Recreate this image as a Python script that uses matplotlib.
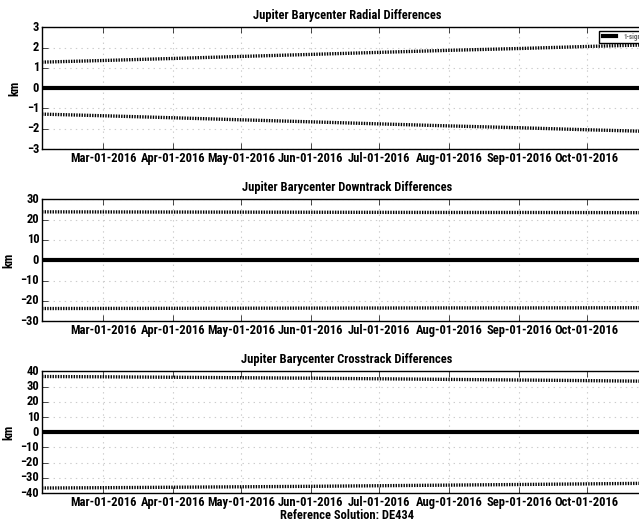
import datetime as dt
import matplotlib
matplotlib.use("Agg")
import matplotlib.pyplot as plt
import matplotlib.dates as mdates

plt.style.use("classic")
# narrow faces first, matplotlib skips the ones that are not installed
plt.rcParams['font.family'] = ['Liberation Sans Narrow', 'Roboto Condensed',
                               'Open Sans Condensed', 'Liberation Sans']
plt.rcParams['font.weight'] = 'bold'

# sample dates and 1-sigma values (km)
dates = [dt.datetime(2016, 2, 3), dt.datetime(2016, 3, 1), dt.datetime(2016, 4, 1),
         dt.datetime(2016, 5, 1), dt.datetime(2016, 6, 1), dt.datetime(2016, 7, 1),
         dt.datetime(2016, 8, 1), dt.datetime(2016, 9, 1), dt.datetime(2016, 10, 1),
         dt.datetime(2016, 10, 28)]
radial_sigma = [1.28, 1.36, 1.46, 1.56, 1.66, 1.76, 1.86, 1.95, 2.05, 2.13]
downtrack_sigma = [23.8, 23.75, 23.7, 23.65, 23.6, 23.55, 23.5, 23.5, 23.45, 23.4]
crosstrack_sigma = [36.6, 36.4, 36.1, 35.8, 35.5, 35.1, 34.7, 34.3, 33.9, 33.5]
diff_zero = [0.0] * len(dates)

panels = [
    ("Jupiter Barycenter Radial Differences", radial_sigma, 3, 1),
    ("Jupiter Barycenter Downtrack Differences", downtrack_sigma, 30, 10),
    ("Jupiter Barycenter Crosstrack Differences", crosstrack_sigma, 40, 10),
]
bottoms = [0.715, 0.386, 0.057]

fig = plt.figure(figsize=(6.39, 5.23), dpi=100, facecolor='white')

for (title, sigma, lim, step), bottom in zip(panels, bottoms):
    ax = fig.add_axes([0.0657, bottom, 0.955, 0.233])
    ax.set_axisbelow(True)
    ax.plot(dates, diff_zero, color='black', lw=3, label='1-sigma')
    ax.plot(dates, sigma, color='black', lw=2.4, ls=(0, (1.0, 0.9)))
    ax.plot(dates, [-s for s in sigma], color='black', lw=2.4, ls=(0, (1.0, 0.9)))
    ax.set_xlim(dt.datetime(2016, 2, 3), dt.datetime(2016, 10, 30))
    ax.set_ylim(-lim, lim)
    ax.set_yticks(range(-lim, lim + 1, step))
    ax.xaxis.set_major_locator(mdates.MonthLocator())
    ax.xaxis.set_major_formatter(mdates.DateFormatter('%b-%d-%Y'))
    ax.grid(True, color='#cccccc', ls=':', lw=0.8)
    ax.tick_params(labelsize=9, pad=2)
    for lab in ax.get_xticklabels() + ax.get_yticklabels():
        lab.set_fontweight('bold')
    ax.set_ylabel('km', fontsize=9, fontweight='bold', labelpad=4)
    ax.set_title(title, fontsize=9, fontweight='bold', y=1.01)
    if bottom == bottoms[0]:
        leg = ax.legend(loc='upper right', fontsize=5, handlelength=2.5,
                        borderpad=0.3, framealpha=1)
        for t in leg.get_texts():
            t.set_color('#666666')
    if bottom == bottoms[-1]:
        ax.set_xlabel('Reference Solution: DE434', fontsize=9, fontweight='bold', labelpad=0)

fig.savefig('out.png', dpi=100, facecolor='white')
